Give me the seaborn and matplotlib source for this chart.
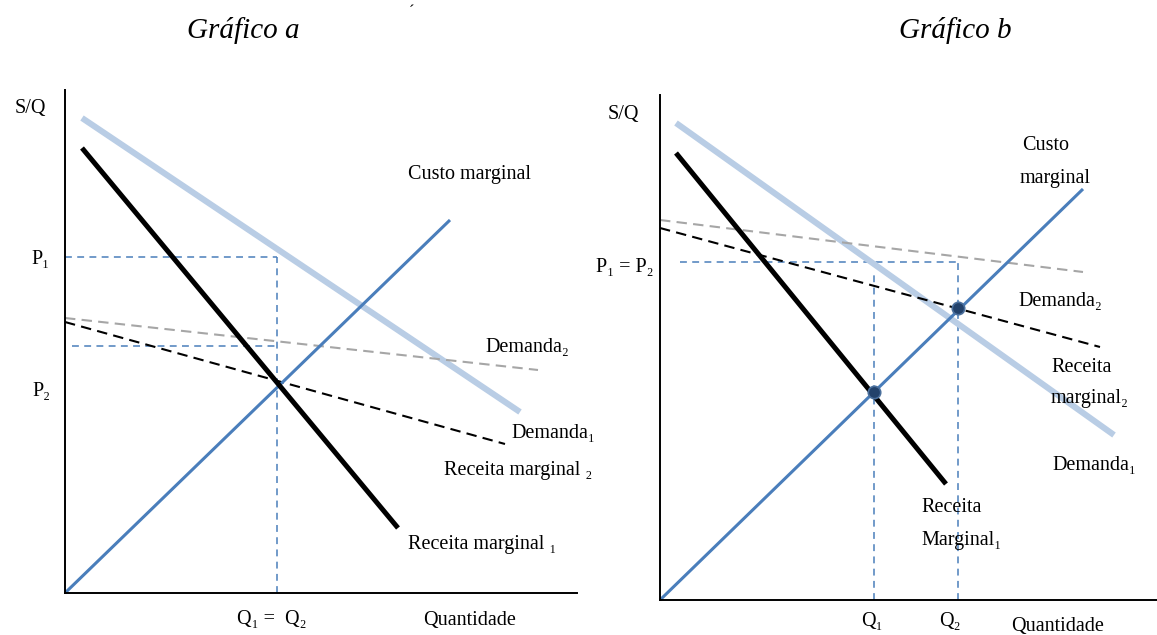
import matplotlib
matplotlib.use("Agg")
import matplotlib.pyplot as plt
import seaborn as sns

# ---- Gráfico a (units: quantity / price, schematic) ----
a_cmg_q = [0, 38.5]
a_cmg_p = [0, 37.3]
a_dem1_q = [1.7, 45.5]
a_dem1_p = [47.5, 18.1]
a_rm1_q = [1.7, 33.3]
a_rm1_p = [44.5, 6.5]
a_dem2_q = [0, 47.3]
a_dem2_p = [27.5, 22.3]
a_rm2_q = [0, 44.0]
a_rm2_p = [27.1, 14.9]
a_q = 21.2
a_p1 = 33.6
a_p_mid = 24.7

# ---- Gráfico b ----
b_cmg_q = [0, 42.3]
b_cmg_p = [0, 41.1]
b_dem1_q = [1.6, 45.4]
b_dem1_p = [47.7, 16.5]
b_rm1_q = [1.6, 28.6]
b_rm1_p = [44.7, 11.6]
b_dem2_q = [0, 42.3]
b_dem2_p = [38.0, 32.8]
b_rm2_q = [0, 44.0]
b_rm2_p = [37.2, 25.3]
b_eq_q = [21.4, 29.8]
b_eq_p = [20.8, 29.2]
b_p = 33.8

BLUE = "#4a7ebb"
LIGHT = "#b9cde5"
GRAY = "#a6a6a6"
DOT = "#23426b"

sns.set_theme(style="white")
plt.rcParams["font.family"] = ["Liberation Serif", "DejaVu Serif"]
plt.rcParams["font.size"] = 14.5
plt.rcParams["text.color"] = "black"

W, H = 1157, 635
fig = plt.figure(figsize=(W / 100, H / 100), dpi=100)


def make_axes(x0, y0, x1, y1):
    # pixel box -> figure fraction
    ax = fig.add_axes([x0 / W, (H - y0) / H, (x1 - x0) / W, (y0 - y1) / H])
    ax.set_xlim(0, (x1 - x0) / 10)
    ax.set_ylim(0, (y0 - y1) / 10)
    for s in ["top", "right"]:
        ax.spines[s].set_visible(False)
    for s in ["left", "bottom"]:
        ax.spines[s].set_color("black")
        ax.spines[s].set_linewidth(1.4)
    ax.set_xticks([])
    ax.set_yticks([])
    ax.patch.set_alpha(0)
    return ax


def line(ax, q, p, color, lw, dash=None, zorder=2):
    sns.lineplot(x=q, y=p, ax=ax, color=color, linewidth=lw, estimator=None,
                 sort=False, zorder=zorder, solid_capstyle="butt", clip_on=False)
    if dash:
        ax.lines[-1].set_dashes(dash)


def guide(ax, q, p):
    line(ax, q, p, BLUE, 1.1, dash=(4.5, 3.5), zorder=1)


# ---------- panel a ----------
axa = make_axes(65, 593, 577, 90)
guide(axa, [0, a_q], [a_p1, a_p1])
guide(axa, [a_q, a_q], [0, a_p1])
guide(axa, [0.7, a_q], [a_p_mid, a_p_mid])
line(axa, a_dem1_q, a_dem1_p, LIGHT, 4.4)
line(axa, a_dem2_q, a_dem2_p, GRAY, 1.5, dash=(5, 3))
line(axa, a_rm2_q, a_rm2_p, "black", 1.5, dash=(5, 3))
line(axa, a_cmg_q, a_cmg_p, BLUE, 2.2)
line(axa, a_rm1_q, a_rm1_p, "black", 3.6, zorder=3)

axa.text(-3.5, 48.4, "S/Q", ha="center", va="center")
axa.text(-1.5, 33.3, "P₁", ha="right", va="center")
axa.text(-1.5, 20.1, "P₂", ha="right", va="center")
axa.text(40.5, 41.8, "Custo marginal", ha="center", va="center")
axa.text(46.2, 24.6, "Demanda₂", ha="center", va="center")
axa.text(48.8, 16.0, "Demanda₁", ha="center", va="center")
axa.text(45.3, 12.2, "Receita marginal ₂", ha="center", va="center")
axa.text(41.7, 4.9, "Receita marginal ₁", ha="center", va="center")
axa.text(20.7, -2.7, "Q₁ =  Q₂", ha="center", va="center")
axa.text(40.5, -2.7, "Quantidade", ha="center", va="center")

# ---------- panel b ----------
axb = make_axes(660, 600, 1157, 95)
guide(axb, [2.0, b_eq_q[1]], [b_p, b_p])
guide(axb, [b_eq_q[0], b_eq_q[0]], [0, 32.5])
guide(axb, [b_eq_q[1], b_eq_q[1]], [0, b_p])
line(axb, b_dem1_q, b_dem1_p, LIGHT, 4.4)
line(axb, b_dem2_q, b_dem2_p, GRAY, 1.5, dash=(5, 3))
line(axb, b_rm2_q, b_rm2_p, "black", 1.5, dash=(5, 3))
line(axb, b_cmg_q, b_cmg_p, BLUE, 2.2)
line(axb, b_rm1_q, b_rm1_p, "black", 3.6, zorder=3)
sns.scatterplot(x=b_eq_q, y=b_eq_p, ax=axb, s=80, color=DOT,
                edgecolor="#4a6f9c", linewidth=1.2, zorder=5, clip_on=False)

axb.text(-3.7, 48.5, "S/Q", ha="center", va="center")
axb.text(-0.7, 33.3, "P₁ = P₂", ha="right", va="center")
axb.text(36.2, 45.5, "Custo", ha="left", va="center")
axb.text(36.0, 42.2, "marginal", ha="left", va="center")
axb.text(35.8, 29.8, "Demanda₂", ha="left", va="center")
axb.text(39.1, 23.3, "Receita", ha="left", va="center")
axb.text(39.1, 20.1, "marginal₂", ha="left", va="center")
axb.text(39.2, 13.4, "Demanda₁", ha="left", va="center")
axb.text(26.1, 9.3, "Receita", ha="left", va="center")
axb.text(26.1, 6.0, "Marginal₁", ha="left", va="center")
axb.text(21.2, -2.2, "Q₁", ha="center", va="center")
axb.text(29.0, -2.2, "Q₂", ha="center", va="center")
axb.text(39.8, -2.7, "Quantidade", ha="center", va="center")

# titles
fig.text(243 / W, 1 - 30 / H, "Gráfico a", ha="center", va="center",
         fontsize=21, style="italic")
fig.text(955 / W, 1 - 30 / H, "Gráfico b", ha="center", va="center",
         fontsize=21, style="italic")
fig.text(411 / W, 1 - 12 / H, "´", ha="center", va="center", fontsize=12)

fig.savefig("out.png", dpi=100)
